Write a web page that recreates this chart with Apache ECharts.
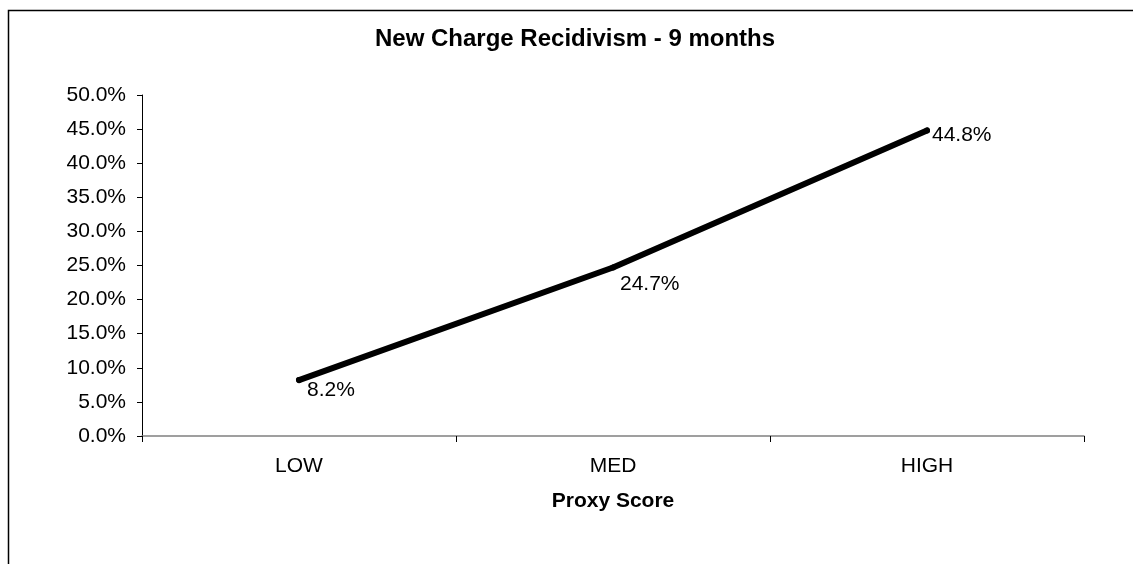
<!DOCTYPE html>
<html>
<head>
<meta charset="utf-8">
<script src="https://cdn.jsdelivr.net/npm/echarts@6/dist/echarts.min.js"></script>
<style>
    html, body { margin: 0; padding: 0; background: #fff; }
    #container { width: 1133px; height: 564px; }
</style>
</head>
<body>
<div id="container"></div>
<script type="text/javascript">
    // chart data
    var categories = ['LOW', 'MED', 'HIGH'];
    var recidivism = [8.2, 24.7, 44.8];
    // label nudges per point (x, y)
    var labelOffsets = [[0, 10], [-1, 17], [-3, 5]];

    var dom = document.getElementById('container');
    var myChart = echarts.init(dom);
    var font = 'Liberation Sans, Arial, sans-serif';

    var seriesData = recidivism.map(function (v, i) {
        return {
            value: v,
            label: {offset: labelOffsets[i]}
        };
    });

    var option = {
        animation: false,
        backgroundColor: '#fff',
        title: {
            text: 'New Charge Recidivism - 9 months',
            left: 375,
            top: 27,
            padding: 0,
            textStyle: {fontFamily: font, fontSize: 24, fontWeight: 'bold', color: '#000'}
        },
        graphic: [{
            type: 'rect',
            shape: {x: 8.5, y: 10.5, width: 1200, height: 600},
            style: {fill: 'none', stroke: '#000', lineWidth: 1.5},
            silent: true
        }],
        grid: {left: 142, right: 49, top: 95, bottom: 128},
        xAxis: {
            type: 'category',
            data: categories,
            boundaryGap: true,
            name: 'Proxy Score',
            nameLocation: 'middle',
            nameGap: 55,
            nameTextStyle: {fontFamily: font, fontSize: 21, fontWeight: 'bold', color: '#000', verticalAlign: 'top'},
            axisLine: {lineStyle: {color: '#808080', width: 1.5}},
            axisTick: {show: true, inside: false, length: 6, lineStyle: {color: '#000'}},
            axisLabel: {fontFamily: font, fontSize: 21, color: '#000', margin: 20},
            splitLine: {show: false}
        },
        yAxis: {
            type: 'value',
            min: 0,
            max: 50,
            interval: 5,
            axisLine: {show: true, lineStyle: {color: '#000'}},
            axisTick: {show: true, length: 5, lineStyle: {color: '#000'}},
            axisLabel: {
                fontFamily: font, fontSize: 21, color: '#000', margin: 16,
                formatter: function (v) { return v.toFixed(1) + '%'; }
            },
            splitLine: {show: false}
        },
        series: [{
            type: 'line',
            data: seriesData,
            symbol: 'circle',
            symbolSize: 6,
            itemStyle: {color: '#000'},
            lineStyle: {color: '#000', width: 6, cap: 'round'},
            label: {
                show: true,
                position: 'right',
                distance: 5,
                fontFamily: font,
                fontSize: 21,
                color: '#000',
                formatter: function (p) { return p.value.toFixed(1) + '%'; }
            }
        }]
    };

    myChart.setOption(option, true);
</script>
</body>
</html>
